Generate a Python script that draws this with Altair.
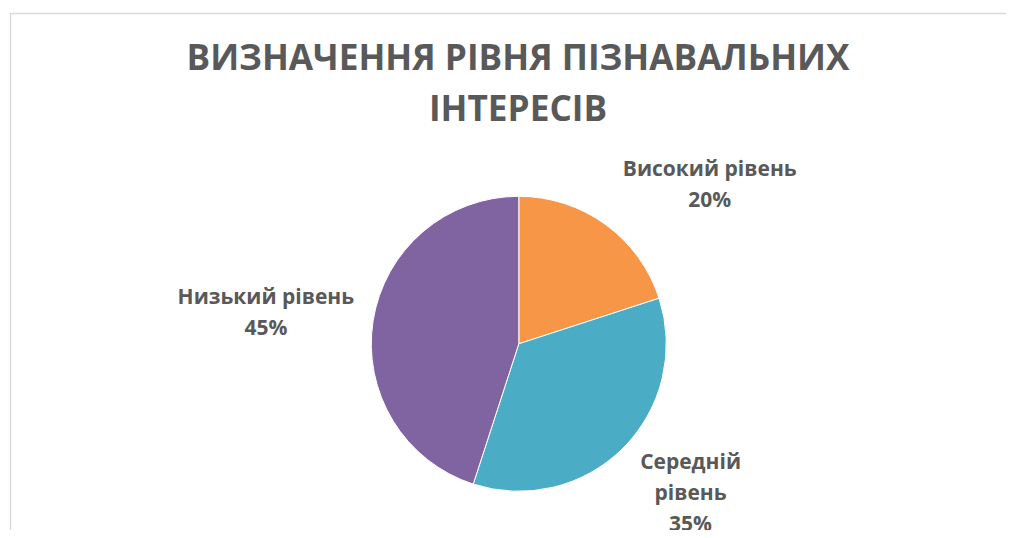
import math
import altair as alt
import pandas as pd

# ---- data ----
categories = ["Високий рівень", "Середній рівень", "Низький рівень"]
values = [20, 35, 45]
label_texts = ["Високий рівень\n20%", "Середній\nрівень\n35%", "Низький рівень\n45%"]
colors = ["#F79646", "#4BACC6", "#8064A2"]
title_lines = ["ВИЗНАЧЕННЯ РІВНЯ ПІЗНАВАЛЬНИХ", "ІНТЕРЕСІВ"]

df = pd.DataFrame({
    "idx": list(range(len(categories))),
    "category": categories,
    "value": values,
    "label": label_texts,
})

FONT = "Open Sans"
TEXT_COLOR = "#595959"
CX, CY = 510.8, 195.8
R = 147.5

theta_scale = alt.Scale(domain=[0, sum(values)], range=[0, 2 * math.pi])

frame = alt.Chart(pd.DataFrame({"a": [0]})).mark_rect(
    filled=False, stroke="#D9D9D9", strokeWidth=1.3
).encode(
    x=alt.value(2.5), x2=alt.value(1012), y=alt.value(-134.5), y2=alt.value(420)
)

pie = alt.Chart(df).mark_arc(radius=R, stroke="white", strokeWidth=1).encode(
    theta=alt.Theta("value:Q", stack=True),
    color=alt.Color("category:N", scale=alt.Scale(domain=categories, range=colors), legend=None),
    order=alt.Order("idx:Q"),
    x=alt.value(CX),
    y=alt.value(CY),
)

label_offsets = [(44, 28), (-5, -58), (-6, -7)]
label_layers = []
for i, (ddx, ddy) in enumerate(label_offsets):
    lyr = alt.Chart(df).transform_window(
        cum="sum(value)", sort=[alt.SortField("idx")]
    ).transform_calculate(
        mid="datum.cum - datum.value / 2"
    ).transform_filter(
        f"datum.idx == {i}"
    ).mark_text(
        radius=250, dx=ddx, dy=ddy, font=FONT, fontSize=21, fontWeight="bold",
        color=TEXT_COLOR, align="center", baseline="middle", lineBreak="\n", lineHeight=31,
    ).encode(
        theta=alt.Theta("mid:Q", scale=theta_scale),
        text="label:N",
        x=alt.value(CX),
        y=alt.value(CY),
    )
    label_layers.append(lyr)

chart = alt.layer(frame, pie, *label_layers).resolve_scale(theta="independent").properties(
    width=998,
    height=382,
    padding={"top": 140, "left": 0, "right": 0, "bottom": 0},
    autosize=alt.AutoSizeParams(type="none"),
    title=alt.TitleParams(
        text=title_lines, font=FONT, fontSize=35.2, fontWeight="bold", color=TEXT_COLOR,
        anchor="middle", dx=11, baseline="alphabetic", offset=-143.7, lineHeight=51.5,
    ),
).configure_view(stroke=None)

chart.save("out.html", embed_options={"renderer": "svg", "actions": False})
